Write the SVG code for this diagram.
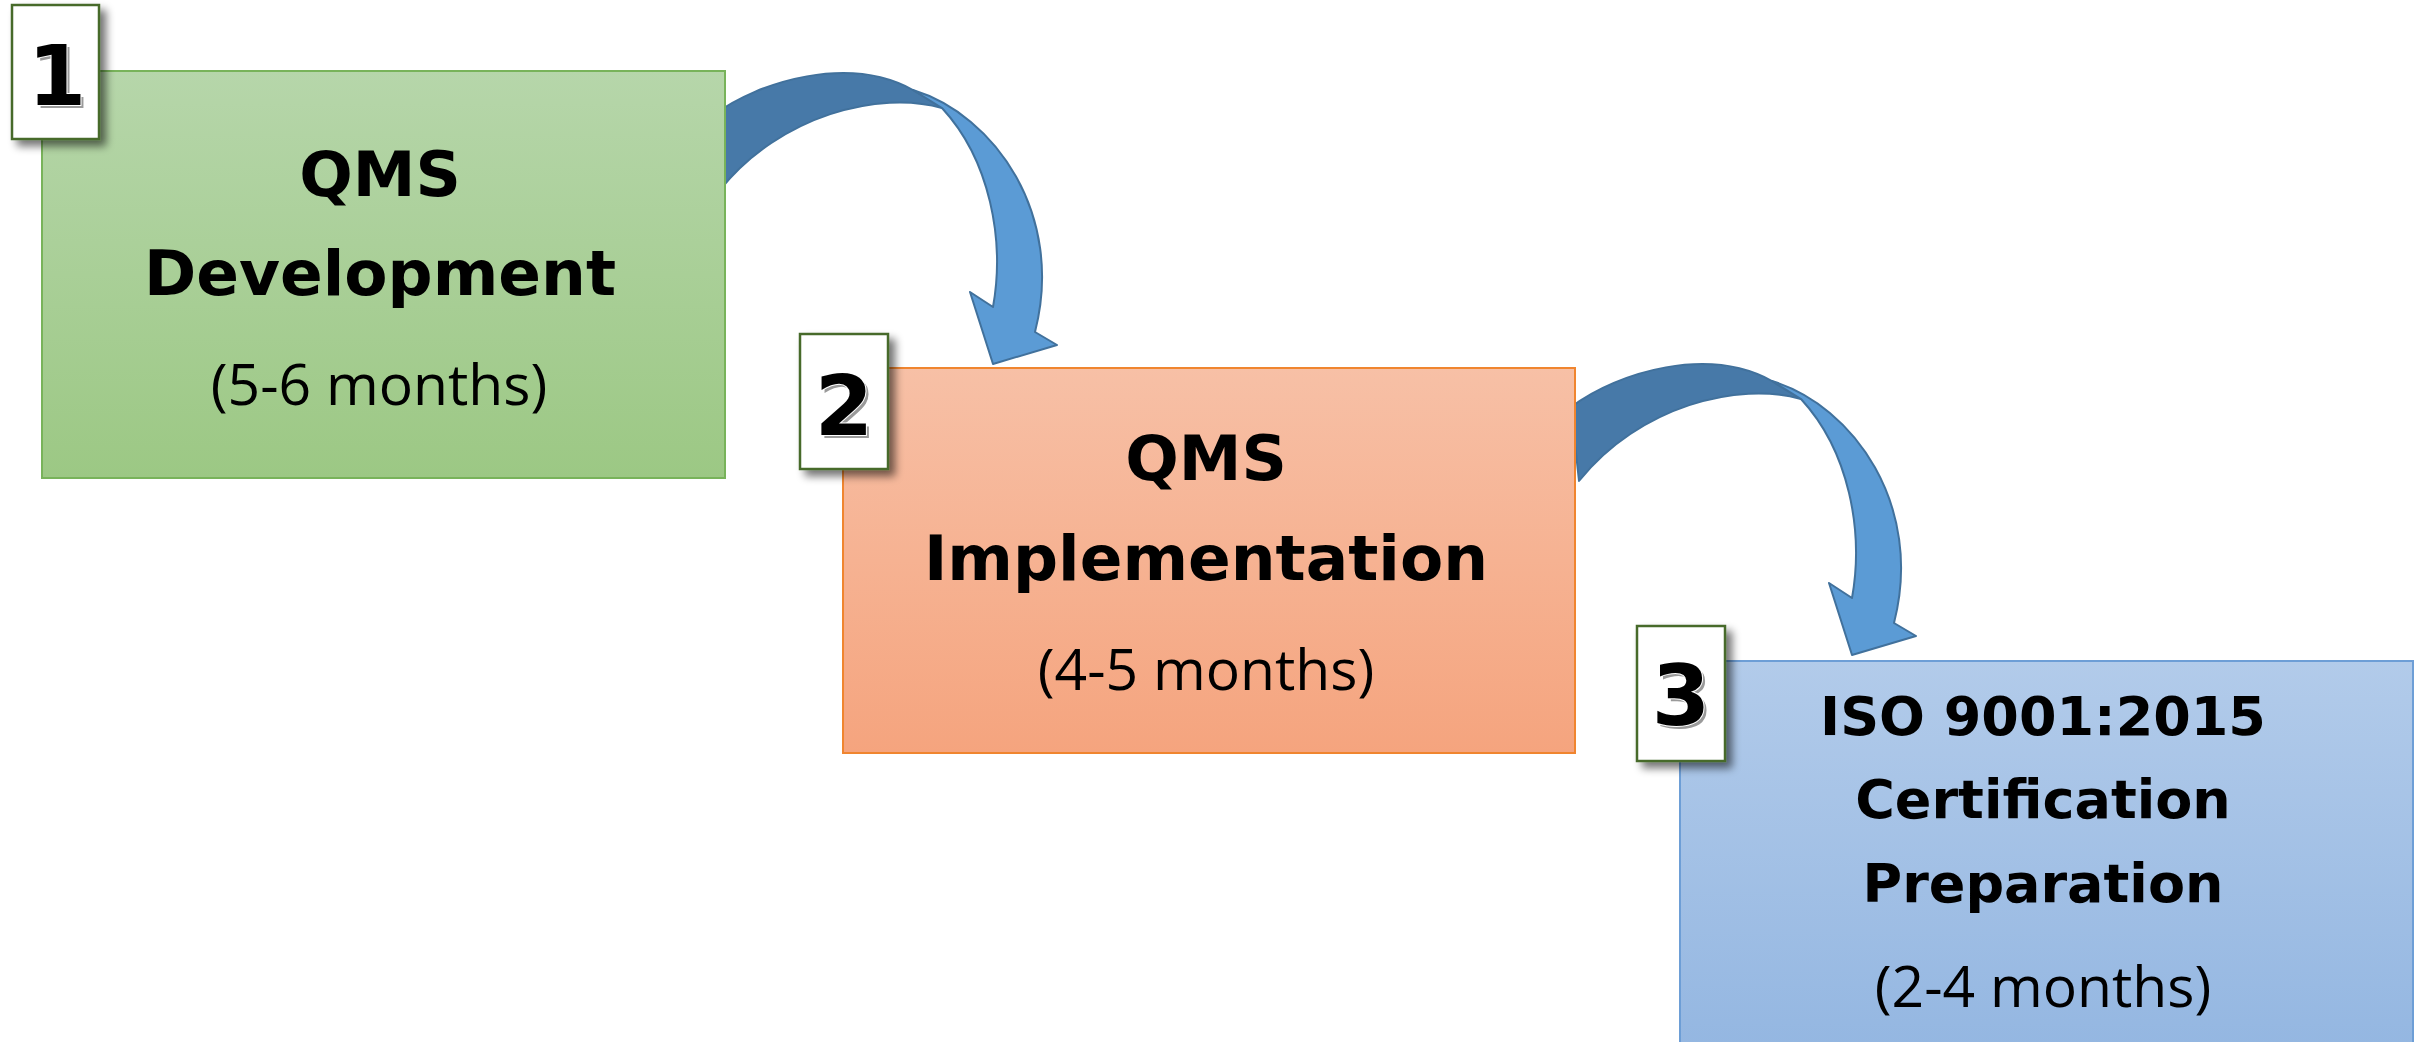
<svg xmlns="http://www.w3.org/2000/svg" width="2428" height="1042" viewBox="0 0 2428 1042">
<defs>
<linearGradient id="gGreen" x1="0" y1="0" x2="0" y2="1"><stop offset="0" stop-color="#b6d6aa"/><stop offset="1" stop-color="#9cc884"/></linearGradient>
<linearGradient id="gOrange" x1="0" y1="0" x2="0" y2="1"><stop offset="0" stop-color="#f7c0a6"/><stop offset="1" stop-color="#f5a47e"/></linearGradient>
<linearGradient id="gBlue" x1="0" y1="0" x2="0" y2="1"><stop offset="0" stop-color="#b2cbea"/><stop offset="1" stop-color="#93b6e1"/></linearGradient>
<filter id="shadow" x="-20%" y="-20%" width="150%" height="150%">
<feGaussianBlur in="SourceAlpha" stdDeviation="4"/>
<feOffset dx="6" dy="6" result="b"/>
<feComponentTransfer><feFuncA type="linear" slope="0.55"/></feComponentTransfer>
<feMerge><feMergeNode/><feMergeNode in="SourceGraphic"/></feMerge>
</filter>
<g id="arrowShape">
<path class="dark" d="M712,116 C760,80 850,55 913,90 L942,108 C880,90 780,115 720,190 Z"/>
<path class="light" d="M913,90 C995,115 1065,215 1035,332 L1057,345 L993,364 L970,292 L993,307 C1005,240 990,160 942,108 Z"/>
</g>
</defs>
<style>
.dark{fill:#4779a8;stroke:#41719c;stroke-width:2;stroke-linejoin:round}
.light{fill:#5b9bd5;stroke:#41719c;stroke-width:2;stroke-linejoin:round}
.badge{fill:#ffffff;stroke:#466a2c;stroke-width:2.5}
.num{font-family:"DejaVu Sans",sans-serif;font-weight:bold;font-size:84px;text-anchor:middle}
.numShadow{fill:#9a9a9a}
.numFront{fill:#000000;stroke:#ffffff;stroke-width:2;paint-order:stroke}
.title{font-family:"DejaVu Sans",sans-serif;font-weight:bold;font-size:63px;text-anchor:middle;fill:#000}
.title3{font-family:"DejaVu Sans",sans-serif;font-weight:bold;font-size:54px;text-anchor:middle;fill:#000}
.sub{font-family:"Open Sans","Liberation Sans",sans-serif;font-size:57px;text-anchor:middle;fill:#000}
</style>
<rect width="2428" height="1042" fill="#ffffff"/>
<g id="connectors">
<use href="#arrowShape"/>
<use href="#arrowShape" transform="translate(859,291)"/>
</g>
<g id="node1">
<rect x="42" y="71" width="683" height="407" fill="url(#gGreen)" stroke="#78b35a" stroke-width="2"/>
<text class="title" x="380" y="196">QMS</text>
<text class="title" x="380" y="295">Development</text>
<text class="sub" x="379" y="405">(5-6 months)</text>
</g>
<g id="node2">
<rect x="843" y="368" width="732" height="385" fill="url(#gOrange)" stroke="#f0852f" stroke-width="2"/>
<text class="title" x="1206" y="480">QMS</text>
<text class="title" x="1206" y="580">Implementation</text>
<text class="sub" x="1206" y="690">(4-5 months)</text>
</g>
<g id="node3">
<rect x="1680" y="661" width="733" height="400" fill="url(#gBlue)" stroke="#6d9ed6" stroke-width="2"/>
<text class="title3" x="2043" y="735">ISO 9001:2015</text>
<text class="title3" x="2043" y="818">Certification</text>
<text class="title3" x="2043" y="902">Preparation</text>
<text class="sub" x="2043" y="1007">(2-4 months)</text>
</g>
<g id="badge1">
<rect class="badge" x="12" y="5" width="87" height="134" filter="url(#shadow)"/>
<text class="num numShadow" x="60" y="108">1</text>
<text class="num numFront" x="57" y="105">1</text>
</g>
<g id="badge2">
<rect class="badge" x="800" y="334" width="88" height="135" filter="url(#shadow)"/>
<text class="num numShadow" x="847" y="438">2</text>
<text class="num numFront" x="844" y="435">2</text>
</g>
<g id="badge3">
<rect class="badge" x="1637" y="626" width="88" height="135" filter="url(#shadow)"/>
<text class="num numShadow" x="1684" y="728">3</text>
<text class="num numFront" x="1681" y="725">3</text>
</g>
</svg>
